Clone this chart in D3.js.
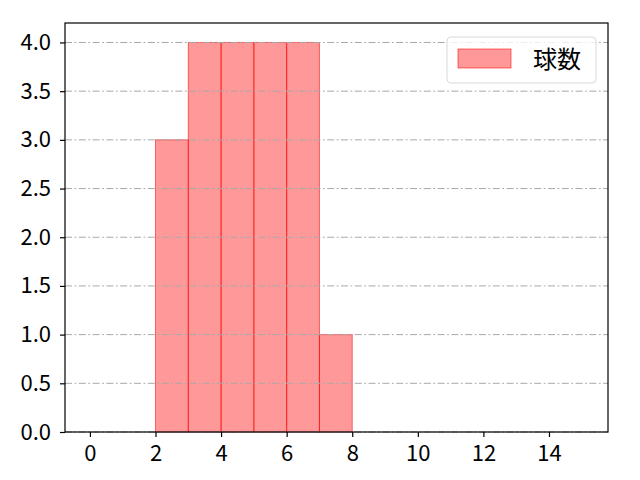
<!DOCTYPE html>
<html>
<head>
<meta charset="utf-8">
<script src="https://cdn.jsdelivr.net/npm/d3@7"></script>
<style>
  body { margin: 0; background: #fff; }
  text { font-family: "Noto Sans CJK JP", "DejaVu Sans", sans-serif; }
</style>
</head>
<body>
<div id="chart"></div>
<script>
// histogram bins (left edges) and counts
const binStarts = [2, 3, 4, 5, 6, 7];
const counts = [3, 4, 4, 4, 4, 1];
const xTicks = [0, 2, 4, 6, 8, 10, 12, 14];
const yTicks = [0, 0.5, 1, 1.5, 2, 2.5, 3, 3.5, 4];
const seriesName = "球数";

const margin = { top: 23, right: 32, bottom: 48, left: 65 };
const width = 640 - margin.left - margin.right;
const height = 480 - margin.top - margin.bottom;

const svg = d3.select("#chart")
    .append("svg")
    .attr("width", 640)
    .attr("height", 480)
    .append("g")
    .attr("transform", `translate(${margin.left},${margin.top})`);

const x = d3.scaleLinear().domain([-0.76, 15.8]).range([0, width]);
const y = d3.scaleLinear().domain([0, 4.2]).range([height, 0]);

// bars
svg.selectAll(".bar")
    .data(binStarts.map((b, i) => ({ x0: b, x1: b + 1, n: counts[i] })))
    .enter()
    .append("rect")
    .attr("class", "bar")
    .attr("x", d => x(d.x0))
    .attr("y", d => y(d.n))
    .attr("width", d => x(d.x1) - x(d.x0))
    .attr("height", d => height - y(d.n))
    .attr("fill", "rgba(255,0,0,0.4)")
    .attr("stroke", "rgba(255,0,0,0.55)")
    .attr("stroke-width", 1);

// horizontal grid, drawn over bars
svg.selectAll(".grid")
    .data(yTicks)
    .enter()
    .append("line")
    .attr("class", "grid")
    .attr("x1", 0)
    .attr("x2", width)
    .attr("y1", d => y(d))
    .attr("y2", d => y(d))
    .attr("stroke", "#a8a8a8")
    .attr("stroke-width", 1)
    .attr("stroke-dasharray", "7,2.5,1.8,2.5");

// axes
const xAxis = d3.axisBottom(x).tickValues(xTicks).tickSize(5).tickPadding(8).tickFormat(d3.format("d"));
const yAxis = d3.axisLeft(y).tickValues(yTicks).tickSize(5).tickPadding(9).tickFormat(d3.format(".1f"));

const gx = svg.append("g").attr("transform", `translate(0,${height})`).call(xAxis);
const gy = svg.append("g").call(yAxis);
[gx, gy].forEach(g => {
    g.attr("font-size", null).attr("font-family", null);
    g.select(".domain").remove();
    g.selectAll("line").attr("stroke", "#000").attr("stroke-width", 1.2);
    g.selectAll("text").attr("fill", "#000").style("font-size", "22px");
});

// frame
svg.append("rect")
    .attr("x", 0)
    .attr("y", 0)
    .attr("width", width)
    .attr("height", height)
    .attr("fill", "none")
    .attr("stroke", "#000")
    .attr("stroke-width", 1.2);

// legend
const legend = svg.append("g").attr("transform", `translate(${width - 161},14)`);
legend.append("rect")
    .attr("width", 149)
    .attr("height", 46)
    .attr("rx", 4)
    .attr("fill", "rgba(255,255,255,0.8)")
    .attr("stroke", "#d9d9d9");
legend.append("rect")
    .attr("x", 11)
    .attr("y", 12)
    .attr("width", 53)
    .attr("height", 19)
    .attr("fill", "rgba(255,0,0,0.4)")
    .attr("stroke", "rgba(255,0,0,0.55)");
legend.append("text")
    .attr("x", 86)
    .attr("y", 31)
    .style("font-size", "24px")
    .attr("fill", "#000")
    .text(seriesName);
</script>
</body>
</html>
